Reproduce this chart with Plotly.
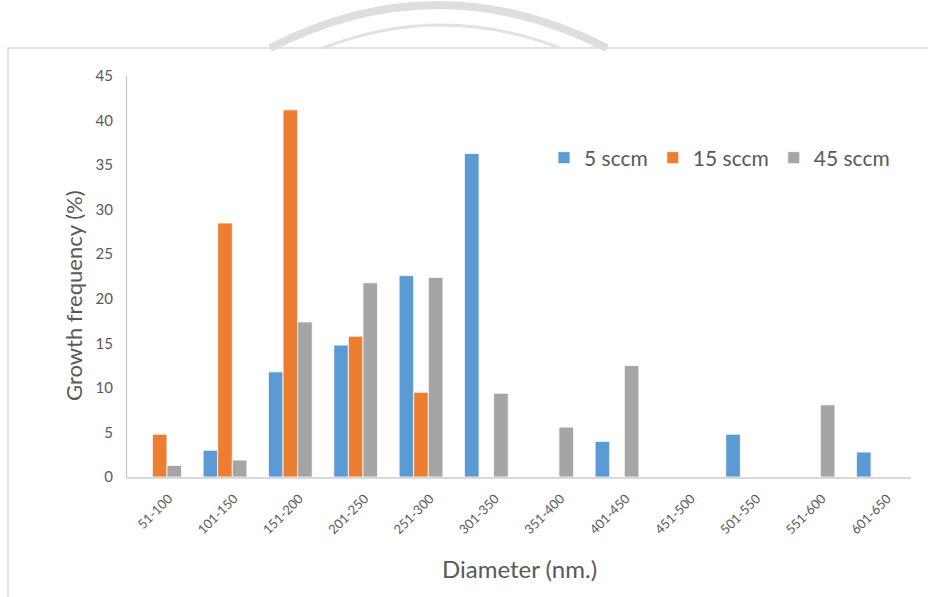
import plotly.graph_objects as go

categories = ["51-100", "101-150", "151-200", "201-250", "251-300", "301-350",
              "351-400", "401-450", "451-500", "501-550", "551-600", "601-650"]
sccm5 = [0, 3.0, 11.8, 14.8, 22.6, 36.3, 0, 4.0, 0, 4.8, 0, 2.8]
sccm15 = [4.8, 28.5, 41.2, 15.8, 9.5, 0, 0, 0, 0, 0, 0, 0]
sccm45 = [1.3, 1.9, 17.4, 21.8, 22.4, 9.4, 5.6, 12.5, 0, 0, 8.1, 0]
series_names = ["5 sccm", "15 sccm", "45 sccm"]
colors = ["#5B9BD5", "#ED7D31", "#A5A5A5"]

W, H = 928, 597
L, R, T, B = 127, 911, 76, 477
FONT = "Lato"
GREY = "#595959"

fig = go.Figure()
for name, vals, c in zip(series_names, [sccm5, sccm15, sccm45], colors):
    fig.add_trace(go.Bar(x=categories, y=vals, name=name,
                         marker=dict(color=c, line=dict(color="white", width=0.8))))


def px(x):
    return (x - L) / (R - L)


def py(y):
    return (B - y) / (B - T)


shapes = [
    # chart border
    dict(type="rect", xref="paper", yref="paper", x0=px(8), y0=py(48), x1=px(940), y1=py(620),
         line=dict(color="#d9d9d9", width=1.5), layer="below"),
    # watermark arcs
    dict(type="path", xref="paper", yref="paper",
         path=f"M {px(270)},{py(48)} Q {px(438)},{py(-38)} {px(607)},{py(48)}",
         line=dict(color="#dedede", width=8), layer="below"),
    dict(type="path", xref="paper", yref="paper",
         path=f"M {px(323)},{py(48)} Q {px(441)},{py(2)} {px(560)},{py(48)}",
         line=dict(color="#e2e2e2", width=3), layer="below"),
]

annotations = [
    dict(text="Growth frequency (%)", xref="paper", yref="paper", x=px(73), y=py(296),
         textangle=-90, showarrow=False, font=dict(family=FONT, size=22, color=GREY),
         xanchor="center", yanchor="middle"),
    dict(text="Diameter (nm.)", xref="paper", yref="paper", x=px(519), y=py(568),
         showarrow=False, font=dict(family=FONT, size=24, color=GREY),
         xanchor="center", yanchor="middle"),
]

fig.update_layout(
    width=W, height=H,
    margin=dict(l=L, r=W - R, t=T, b=H - B, autoexpand=False),
    paper_bgcolor="white", plot_bgcolor="white",
    barmode="group", bargap=0.33, bargroupgap=0,
    font=dict(family=FONT, color=GREY),
    shapes=shapes, annotations=annotations,
    legend=dict(orientation="h", x=px(544), y=py(158), xanchor="left", yanchor="middle",
                font=dict(family=FONT, size=21, color=GREY), bgcolor="rgba(0,0,0,0)",
                itemwidth=30, tracegroupgap=0),
    showlegend=True,
)
fig.update_yaxes(range=[0, 45], dtick=5, showgrid=False, zeroline=False,
                 showline=True, linecolor="#bfbfbf", linewidth=1, automargin=False,
                 tickfont=dict(family=FONT, size=15, color=GREY), ticks="",
                 ticklabelstandoff=10)
fig.update_xaxes(showgrid=False, showline=True, linecolor="#d9d9d9", linewidth=2,
                 automargin=False,
                 tickangle=-45, tickfont=dict(family=FONT, size=13, color=GREY), ticks="",
                 ticklabelstandoff=7, ticklabelshift=9)

fig.write_html("out.html", config={"displayModeBar": False},
               post_script="document.body.style.margin='0';document.body.style.padding='0';")
